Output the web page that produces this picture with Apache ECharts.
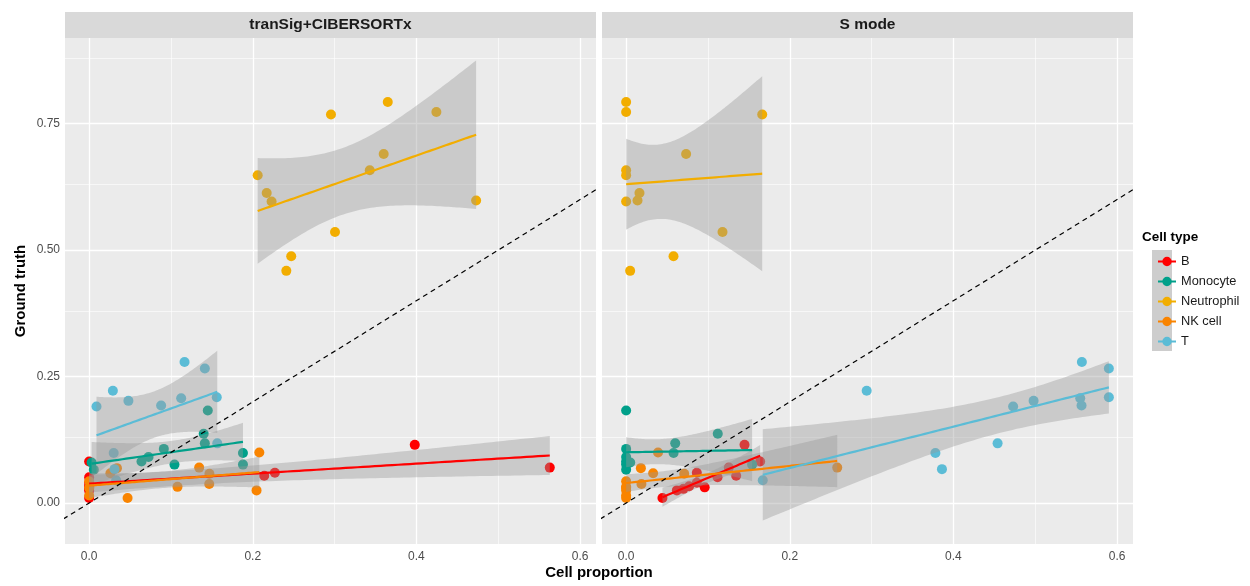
<!DOCTYPE html>
<html>
<head>
<meta charset="utf-8">
<script src="https://cdn.jsdelivr.net/npm/echarts@6/dist/echarts.min.js"></script>
<style>
  html, body { margin: 0; padding: 0; background: #ffffff; }
  #chart { width: 1250px; height: 586px; }
</style>
</head>
<body>
<div id="chart"></div>
<script>
// Facets and cell types
const methods = ['tranSig+CIBERSORTx', 'S mode'];
const cellTypes = ['B', 'Monocyte', 'Neutrophil', 'NK cell', 'T'];
const palette = ['#FF0000', '#00A08A', '#F2AD00', '#F98400', '#5BBCD6'];

// Ground-truth proportions, one entry per sample
const truthB    = [0.115, 0.082, 0.070, 0.060, 0.054, 0.051, 0.040, 0.033, 0.031, 0.028, 0.025, 0.010];
const truthMono = [0.183, 0.137, 0.118, 0.107, 0.099, 0.091, 0.082, 0.080, 0.076, 0.076, 0.066];
const truthNeu  = [0.648, 0.613, 0.596, 0.768, 0.793, 0.773, 0.690, 0.658, 0.598, 0.536, 0.488, 0.459];
const truthNK   = [0.100, 0.070, 0.069, 0.059, 0.058, 0.0375, 0.032, 0.025, 0.010, 0.043, 0.030, 0.015];
const truthT    = [0.191, 0.222, 0.202, 0.193, 0.207, 0.279, 0.266, 0.209, 0.099, 0.118, 0.067, 0.045];

// Estimated proportions: tranSig+CIBERSORTx
const tsB    = [0.398, 0, 0.563, 0.227, 0.214, 0, 0, 0, 0, 0, 0, 0];
const tsMono = [0.145, 0.140, 0.1414, 0.0913, 0.188, 0.0726, 0.064, 0.003, 0.1043, 0.188, 0.0057];
const tsNeu  = [0.206, 0.217, 0.223, 0.2956, 0.365, 0.4244, 0.360, 0.343, 0.473, 0.3005, 0.247, 0.241];
const tsNK   = [0.208, 0.1345, 0.034, 0.026, 0.147, 0.1468, 0.108, 0.2046, 0.047, 0, 0, 0];
const tsT    = [0.009, 0.029, 0.048, 0.088, 0.1125, 0.1166, 0.1414, 0.156, 0.030, 0.1566, 0.031, 0.033];

// Estimated proportions: S mode
const smB    = [0.1447, 0.1638, 0.1255, 0.0864, 0.1345, 0.1117, 0.0864, 0.077, 0.096, 0.070, 0.062, 0.0444];
const smMono = [0, 0.112, 0.060, 0, 0.058, 0, 0, 0.005, 0.154, 0, 0];
const smNeu  = [0, 0.0163, 0, 0.1663, 0, 0, 0.0733, 0, 0.0139, 0.1178, 0.0579, 0.0049];
const smNK   = [0.039, 0.258, 0.018, 0.033, 0.071, 0.0187, 0, 0, 0, 0, 0, 0];
const smT    = [0.473, 0.294, 0.498, 0.5566, 0.555, 0.557, 0.590, 0.590, 0.378, 0.454, 0.386, 0.167];

// Axis breaks
const xBreaks = [0, 0.2, 0.4, 0.6];
const xMinorBreaks = [0.1, 0.3, 0.5];
const yBreaks = [0, 0.25, 0.5, 0.75];
const yMinorBreaks = [0.125, 0.375, 0.625, 0.875];
const identityEnds = [-0.2, 1.2];

const truths = [truthB, truthMono, truthNeu, truthNK, truthT];
const estimates = [
  [tsB, tsMono, tsNeu, tsNK, tsT],
  [smB, smMono, smNeu, smNK, smT]
];

// Two-sided 95% Student t quantiles by degrees of freedom
const T975 = {7: 2.364624, 8: 2.306004, 9: 2.262157, 10: 2.228139, 11: 2.200985, 12: 2.178813, 13: 2.160369};

// Ordinary least-squares fit with a 95% confidence band, evaluated over the data range
function lmBand(xs, ys, steps) {
  const n = xs.length;
  const mx = xs.reduce((a, b) => a + b, 0) / n;
  const my = ys.reduce((a, b) => a + b, 0) / n;
  let sxx = 0, sxy = 0;
  for (let i = 0; i < n; i++) {
    sxx += (xs[i] - mx) * (xs[i] - mx);
    sxy += (xs[i] - mx) * (ys[i] - my);
  }
  const slope = sxy / sxx;
  const icpt = my - slope * mx;
  let sse = 0;
  for (let i = 0; i < n; i++) {
    const r = ys[i] - (icpt + slope * xs[i]);
    sse += r * r;
  }
  const s = Math.sqrt(sse / (n - 2));
  const t = T975[n - 2];
  const lo = Math.min(...xs), hi = Math.max(...xs);
  const out = [];
  for (let k = 0; k < steps; k++) {
    const x = lo + (hi - lo) * k / (steps - 1);
    const fit = icpt + slope * x;
    const se = s * Math.sqrt(1 / n + (x - mx) * (x - mx) / sxx);
    out.push([x, fit, fit - t * se, fit + t * se]);
  }
  return out;
}

const FONT = '"Liberation Sans", Arial, Helvetica, sans-serif';
const PANEL_TOP = 38, PANEL_H = 506, PANEL_W = 531;
const panelLeft = [65, 602];

const grids = panelLeft.map(l => ({
  left: l, top: PANEL_TOP, width: PANEL_W, height: PANEL_H,
  show: true, backgroundColor: '#EBEBEB', borderWidth: 0, containLabel: false
}));

const xAxes = panelLeft.map((l, p) => ({
  type: 'value', gridIndex: p, min: -0.0295, max: 0.6195,
  axisLine: { show: false },
  axisTick: { show: true, customValues: xBreaks, length: 3.5, lineStyle: { color: '#333333', width: 1 } },
  axisLabel: { show: true, customValues: xBreaks, formatter: v => v.toFixed(1), color: '#4D4D4D', fontSize: 12, fontFamily: FONT, margin: 7 },
  splitLine: { show: false }
}));

const yAxes = panelLeft.map((l, p) => ({
  type: 'value', gridIndex: p, min: -0.081, max: 0.9194,
  axisLine: { show: false },
  axisTick: { show: p === 0, customValues: yBreaks, length: 3.5, lineStyle: { color: '#333333', width: 1 } },
  axisLabel: { show: p === 0, customValues: yBreaks, formatter: v => v.toFixed(2), color: '#4D4D4D', fontSize: 12, fontFamily: FONT, margin: 5 },
  splitLine: { show: false },
  name: p === 0 ? 'Ground truth' : '',
  nameLocation: 'middle', nameGap: 37, nameRotate: 90,
  nameTextStyle: { fontSize: 15, fontWeight: 'bold', color: '#000000', fontFamily: FONT }
}));

const series = [];

// Panel grid lines
panelLeft.forEach((l, p) => {
  const major = { color: '#FFFFFF', width: 1.3, type: 'solid' };
  const minor = { color: '#FFFFFF', width: 0.6, type: 'solid' };
  series.push({
    type: 'line', xAxisIndex: p, yAxisIndex: p, data: [], silent: true,
    markLine: {
      silent: true, symbol: ['none', 'none'], z: 1, animation: false,
      label: { show: false },
      data: [].concat(
        xMinorBreaks.map(v => ({ xAxis: v, lineStyle: minor })),
        yMinorBreaks.map(v => ({ yAxis: v, lineStyle: minor })),
        xBreaks.map(v => ({ xAxis: v, lineStyle: major })),
        yBreaks.map(v => ({ yAxis: v, lineStyle: major }))
      )
    }
  });
});

// Points, confidence bands and fitted lines
panelLeft.forEach((l, p) => {
  cellTypes.forEach((ct, c) => {
    const xs = estimates[p][c];
    const ys = truths[c];
    series.push({
      type: 'scatter', name: ct, xAxisIndex: p, yAxisIndex: p, z: 2,
      symbol: 'circle', symbolSize: 10,
      itemStyle: { color: palette[c], opacity: 1 },
      data: xs.map((x, i) => [x, ys[i]])
    });
  });
  cellTypes.forEach((ct, c) => {
    const band = lmBand(estimates[p][c], truths[c], 80);
    series.push({
      type: 'custom', name: ct, xAxisIndex: p, yAxisIndex: p, z: 3, silent: true,
      data: band.map(b => [b[0], b[2], b[3]]),
      encode: { x: 0, y: [1, 2] },
      renderItem: (params, api) => {
        if (params.dataIndex !== 0) return;
        const upper = band.map(b => api.coord([b[0], b[3]]));
        const lower = band.map(b => api.coord([b[0], b[2]])).reverse();
        return {
          type: 'polygon',
          shape: { points: upper.concat(lower) },
          style: { fill: 'rgba(153,153,153,0.4)' }
        };
      }
    });
  });
  cellTypes.forEach((ct, c) => {
    const band = lmBand(estimates[p][c], truths[c], 80);
    series.push({
      type: 'line', name: ct, xAxisIndex: p, yAxisIndex: p, z: 4, silent: true,
      showSymbol: false, symbol: 'none',
      lineStyle: { color: palette[c], width: 2.2 },
      itemStyle: { color: palette[c] },
      data: band.map(b => [b[0], b[1]])
    });
  });
  // y = x reference line
  series.push({
    type: 'line', xAxisIndex: p, yAxisIndex: p, z: 5, silent: true, clip: true,
    showSymbol: false, symbol: 'none',
    lineStyle: { color: '#000000', width: 1.2, type: [5, 4] },
    data: identityEnds.map(v => [v, v])
  });
});

// Legend key: line through a point
const keyIcon = 'path://M0,4.1 L18,4.1 L18,5.9 L0,5.9 Z M13.7,5 A4.7,4.7 0 1 1 4.3,5 A4.7,4.7 0 1 1 13.7,5 Z';

const graphic = [];
panelLeft.forEach((l, p) => {
  graphic.push({
    type: 'rect', silent: true, z: 0,
    shape: { x: l, y: 12, width: PANEL_W, height: 26 },
    style: { fill: '#D9D9D9' }
  });
  graphic.push({
    type: 'text', silent: true, z: 1,
    x: l + PANEL_W / 2, y: 25,
    style: { text: methods[p], fill: '#1A1A1A', font: 'bold 15.5px ' + FONT, textAlign: 'center', textVerticalAlign: 'middle' }
  });
});
graphic.push({
  type: 'text', silent: true,
  x: (panelLeft[0] + panelLeft[1] + PANEL_W) / 2, y: 573,
  style: { text: 'Cell proportion', fill: '#000000', font: 'bold 15px ' + FONT, textAlign: 'center', textVerticalAlign: 'middle' }
});
graphic.push({
  type: 'text', silent: true,
  x: 1142, y: 237,
  style: { text: 'Cell type', fill: '#000000', font: 'bold 13.5px ' + FONT, textAlign: 'left', textVerticalAlign: 'middle' }
});
graphic.push({
  type: 'rect', silent: true, z: 0,
  shape: { x: 1152, y: 250, width: 20, height: 101 },
  style: { fill: '#CDCDCD' }
});

const option = {
  animation: false,
  backgroundColor: '#FFFFFF',
  textStyle: { fontFamily: FONT },
  grid: grids,
  xAxis: xAxes,
  yAxis: yAxes,
  legend: {
    orient: 'vertical', left: 1153, top: 250,
    itemWidth: 18, itemHeight: 10, itemGap: 7,
    selectedMode: false, z: 5,
    data: cellTypes.map(n => ({ name: n, icon: keyIcon })),
    textStyle: { fontSize: 12.8, color: '#1A1A1A', fontFamily: FONT, padding: [0, 0, 0, 0] }
  },
  graphic: graphic,
  series: series
};

const chart = echarts.init(document.getElementById('chart'), null, { renderer: 'canvas' });
chart.setOption(option);
</script>
</body>
</html>
